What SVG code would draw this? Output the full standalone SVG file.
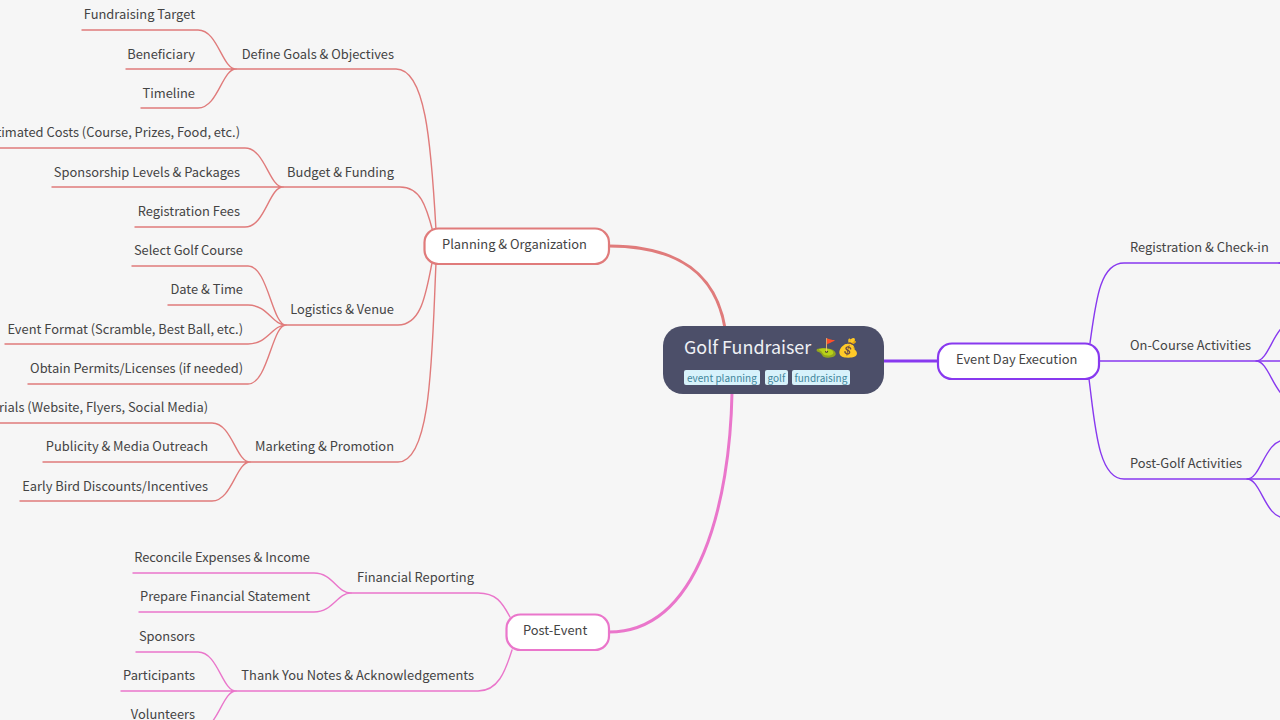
<svg xmlns="http://www.w3.org/2000/svg" width="1280" height="720" viewBox="0 0 1280 720">
<style>
text{font-family:"Noto Sans CJK SC","Noto Sans",sans-serif;font-size:12.88px;fill:#444}
.c{fill:none;stroke-linecap:round}
.r{stroke:#e07b7b;stroke-width:1.4}.p{stroke:#ea76cb;stroke-width:1.4}.v{stroke:#8839ef;stroke-width:1.4}
.n{fill:#fff;stroke-width:2.2}
.m{stroke-width:3}
.tag{fill:#d7f2fb}.tt{font-size:10px;fill:#40869c}
.e{text-anchor:end}
</style>
<rect width="1280" height="720" fill="#f6f6f6"/>
<g id="connectors">
<g class="c r">
<path d="M436 230C431 140 425 69 396 69L236 69"/>
<path d="M433 232C426 205 420 187 400 187L283 187"/>
<path d="M432 263C426 292 422 325 398 325L286 325"/>
<path d="M436 263C432 350 432 462 398 462L250 462"/>
<path d="M236 69C222 69 218 30 198 30L82 30M236 69L126 69M236 69C222 69 218 108 198 108L141 108"/>
<path d="M283 187C269 187 265 148 245 148L0 148M283 187L52 187M283 187C269 187 265 227 245 227L135 227"/>
<path d="M286 325C272 325 268 266 248 266L132 266M286 325C272 325 268 305 248 305L168 305M286 325C272 325 268 344 248 344L5 344M286 325C272 325 268 384 248 384L28 384"/>
<path d="M250 462C236 462 232 423 212 423L0 423M250 462L43 462M250 462C236 462 232 501 212 501L20 501"/>
</g>
<g class="c p">
<path d="M510 617C502 602 496 593 478 593L351 593"/>
<path d="M512 650C505 672 498 691 478 691L236 691"/>
<path d="M351 593C337 593 333 573 314 573L133 573M351 593C337 593 333 612 314 612L139 612"/>
<path d="M236 691C222 691 218 652 198 652L136 652M236 691L121 691M236 691C222 691 218 730 198 730L130 730"/>
</g>
<g class="c v">
<path d="M1090 343C1096 300 1100 263 1124 263L1290 263"/>
<path d="M1099 361L1290 361"/>
<path d="M1089 379C1095 425 1098 479 1124 479L1290 479"/>
<path d="M1256 361C1270 361 1274 322 1294 322M1256 361C1270 361 1274 400 1294 400"/>
<path d="M1247 479C1261 479 1265 440 1285 440M1247 479C1261 479 1265 518 1285 518"/>
<path d="M1279 263C1293 263 1297 224 1317 224M1279 263C1293 263 1297 302 1317 302"/>
</g>
<path class="c m" stroke="#e07b7b" d="M725 328C716 275 680 246 609 246"/>
<path class="c m" stroke="#ea76cb" d="M732 393C730 500 700 632 609 632"/>
<path class="c m" stroke="#8839ef" d="M884 361L938 361"/>
</g>
<g id="root">
<rect x="663" y="326" width="221" height="68" rx="20" fill="#4c4f69"/>
<text x="684" y="354" style="font-size:17.9px;fill:#eff1f5">Golf Fundraiser ⛳💰</text>
<rect class="tag" x="684" y="370" width="76" height="15" rx="2"/><text class="tt" x="687" y="381.500">event planning</text>
<rect class="tag" x="765" y="370" width="23" height="15" rx="2"/><text class="tt" x="767.500" y="381.500">golf</text>
<rect class="tag" x="792" y="370" width="58" height="15" rx="2"/><text class="tt" x="794.500" y="381.500">fundraising</text>
</g>
<g id="planning"><rect class="n" x="424.500" y="228.500" width="184.500" height="35.500" rx="14" stroke="#e07b7b"/><text x="442" y="249">Planning &amp; Organization</text></g>
<g id="event-day"><rect class="n" x="938" y="343.500" width="161" height="35.500" rx="14" stroke="#8839ef"/><text x="956" y="364">Event Day Execution</text></g>
<g id="post-event"><rect class="n" x="506.500" y="614.500" width="102.500" height="35.500" rx="14" stroke="#ea76cb"/><text x="523" y="635">Post-Event</text></g>
<g id="goals"><text class="e" x="394" y="58.500">Define Goals &amp; Objectives</text></g>
<g id="l1"><text class="e" x="195" y="19">Fundraising Target</text></g>
<g id="l2"><text class="e" x="195" y="58.500">Beneficiary</text></g>
<g id="l3"><text class="e" x="195" y="98">Timeline</text></g>
<g id="budget"><text class="e" x="394" y="176.500">Budget &amp; Funding</text></g>
<g id="l4"><text class="e" x="240" y="137">Estimated Costs (Course, Prizes, Food, etc.)</text></g>
<g id="l5"><text class="e" x="240" y="176.500">Sponsorship Levels &amp; Packages</text></g>
<g id="l6"><text class="e" x="240" y="216">Registration Fees</text></g>
<g id="logistics"><text class="e" x="394" y="314">Logistics &amp; Venue</text></g>
<g id="l7"><text class="e" x="243" y="255">Select Golf Course</text></g>
<g id="l8"><text class="e" x="243" y="294">Date &amp; Time</text></g>
<g id="l9"><text class="e" x="243" y="334">Event Format (Scramble, Best Ball, etc.)</text></g>
<g id="l10"><text class="e" x="243" y="373">Obtain Permits/Licenses (if needed)</text></g>
<g id="marketing"><text class="e" x="394" y="451">Marketing &amp; Promotion</text></g>
<g id="l11"><text class="e" x="208" y="412">Promotional Materials (Website, Flyers, Social Media)</text></g>
<g id="l12"><text class="e" x="208" y="451">Publicity &amp; Media Outreach</text></g>
<g id="l13"><text class="e" x="208" y="491">Early Bird Discounts/Incentives</text></g>
<g id="financial"><text class="e" x="474" y="582">Financial Reporting</text></g>
<g id="l14"><text class="e" x="310" y="562">Reconcile Expenses &amp; Income</text></g>
<g id="l15"><text class="e" x="310" y="601">Prepare Financial Statement</text></g>
<g id="thanks"><text class="e" x="474" y="680">Thank You Notes &amp; Acknowledgements</text></g>
<g id="l16"><text class="e" x="195" y="641">Sponsors</text></g>
<g id="l17"><text class="e" x="195" y="680">Participants</text></g>
<g id="l18"><text class="e" x="195" y="719">Volunteers</text></g>
<g id="registration"><text x="1130" y="252">Registration &amp; Check-in</text></g>
<g id="oncourse"><text x="1130" y="350">On-Course Activities</text></g>
<g id="postgolf"><text x="1130" y="468">Post-Golf Activities</text></g>
</svg>
